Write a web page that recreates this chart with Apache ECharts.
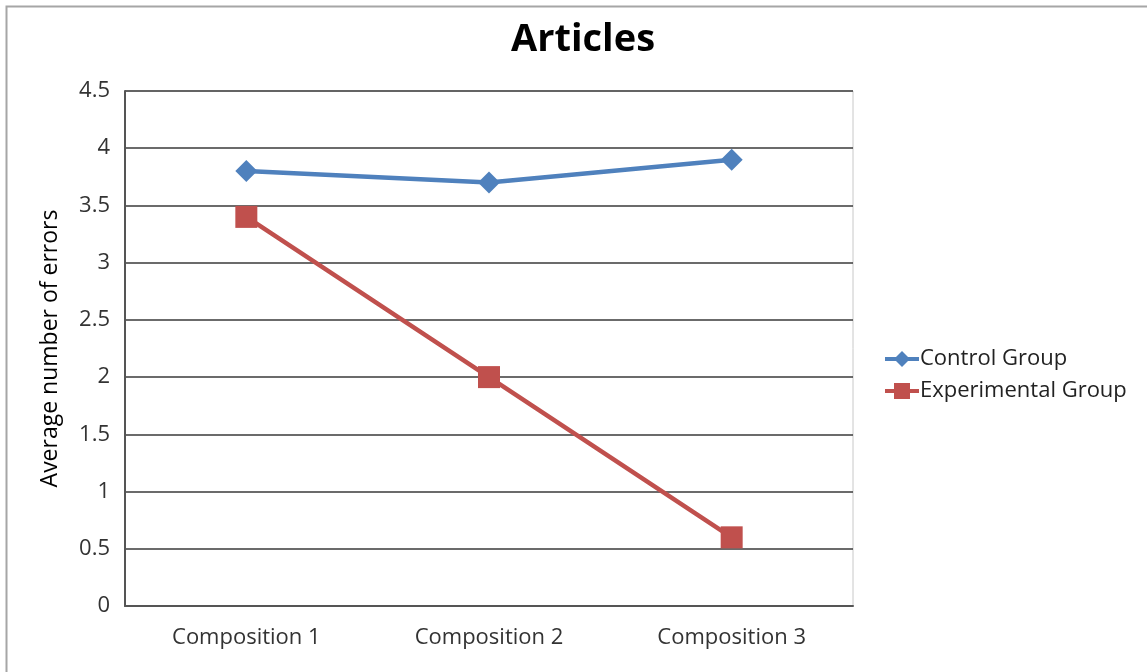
<!DOCTYPE html>
<html>
<head>
<meta charset="utf-8">
<script src="https://cdn.jsdelivr.net/npm/echarts@6/dist/echarts.min.js"></script>
<style>
  html, body { margin: 0; padding: 0; background: #fff; }
  #chart { width: 1147px; height: 672px; }
</style>
</head>
<body>
<div id="chart"></div>
<script>
const categories = ['Composition 1', 'Composition 2', 'Composition 3'];
const controlGroup = [3.8, 3.7, 3.9];
const experimentalGroup = [3.4, 2.0, 0.6];

const FONT = '"Open Sans", "DejaVu Sans", sans-serif';

const chart = echarts.init(document.getElementById('chart'), null, { renderer: 'canvas' });
chart.setOption({
  backgroundColor: '#ffffff',
  animation: false,
  title: {
    text: 'Articles',
    left: 578,
    textAlign: 'center',
    top: 16,
    textStyle: { fontFamily: FONT, fontSize: 38, fontWeight: 'bold', color: '#000' }
  },
  graphic: [{
    type: 'rect',
    shape: { x: 6.5, y: 6.5, width: 1160, height: 700 },
    style: { fill: 'none', stroke: '#a6a6a6', lineWidth: 2 },
    silent: true,
    z: -1
  }, {
    type: 'rect',
    shape: { x: 125, y: 91, width: 728, height: 515 },
    style: { fill: 'none', stroke: '#c8c8c8', lineWidth: 1 },
    silent: true,
    z: -1
  }],
  legend: {
    orient: 'vertical',
    left: 878,
    top: 343,
    itemWidth: 34,
    itemHeight: 20,
    itemGap: 10,
    lineStyle: { width: 4 },
    textStyle: { fontFamily: FONT, fontSize: 22, color: '#222', padding: [0, 0, 0, -4] },
    data: ['Control Group', 'Experimental Group']
  },
  grid: { left: 125, top: 91, right: 294, bottom: 66, containLabel: false },
  xAxis: {
    type: 'category',
    data: categories,
    boundaryGap: true,
    axisLine: { lineStyle: { color: '#555', width: 2 } },
    axisTick: { show: false },
    axisLabel: { fontFamily: FONT, fontSize: 22, color: '#333', margin: 21 }
  },
  yAxis: {
    type: 'value',
    min: 0,
    max: 4.5,
    interval: 0.5,
    name: 'Average number of errors',
    nameLocation: 'middle',
    nameGap: 63,
    nameRotate: 90,
    nameTextStyle: { fontFamily: FONT, fontSize: 23, color: '#000' },
    axisLine: { show: true, lineStyle: { color: '#555', width: 2 } },
    axisTick: { show: false },
    splitLine: { lineStyle: { color: '#3a3a3a', width: 1.5 } },
    axisLabel: { fontFamily: FONT, fontSize: 22, color: '#333', margin: 15, padding: [4, 0, 0, 0] }
  },
  series: [{
    name: 'Control Group',
    type: 'line',
    data: controlGroup,
    symbol: 'diamond',
    symbolSize: 22,
    itemStyle: { color: '#4f81bd' },
    lineStyle: { color: '#4f81bd', width: 4.5 }
  }, {
    name: 'Experimental Group',
    type: 'line',
    data: experimentalGroup,
    symbol: 'rect',
    symbolSize: 22,
    itemStyle: { color: '#c0504d' },
    lineStyle: { color: '#c0504d', width: 4.5 }
  }]
});
</script>
</body>
</html>
